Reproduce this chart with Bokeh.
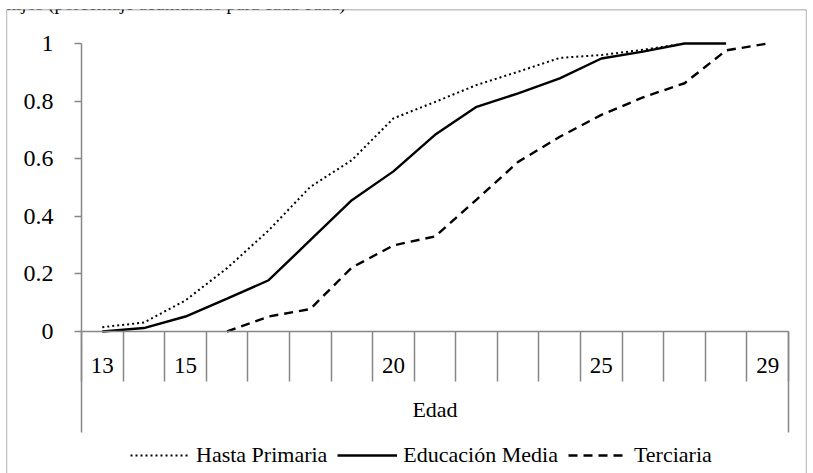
import numpy as np
from bokeh.plotting import figure
from bokeh.models import (Range1d, LinearAxis, FixedTicker, Legend, LegendItem, Label)
from bokeh.embed import file_html
from bokeh.resources import INLINE

nan = np.nan

# ---------------- data ----------------
ages = list(range(13, 30))
shown_age_labels = {13: "13", 15: "15", 20: "20", 25: "25", 29: "29"}

primaria = [0.015, 0.031, 0.108, 0.220, 0.351, 0.502, 0.595, 0.740, 0.797,
            0.856, 0.902, 0.950, 0.960, 0.978, 1.000, nan, nan]
media = [0.000, 0.012, 0.052, 0.114, 0.178, 0.317, 0.456, 0.556, 0.683,
         0.780, 0.827, 0.879, 0.948, 0.972, 1.000, 1.000, nan]
terciaria = [nan, nan, nan, 0.000, 0.052, 0.078, 0.222, 0.299, 0.330,
             0.458, 0.589, 0.676, 0.752, 0.813, 0.862, 0.976, 1.000]

series_names = ["Hasta Primaria", "Educación Media", "Terciaria"]
y_ticks = [0, 0.2, 0.4, 0.6, 0.8, 1.0]
y_tick_labels = ["0", "0.2", "0.4", "0.6", "0.8", "1"]
x_axis_title = "Edad"
title_text = "hijos (porcentaje acumulado para cada edad)"

# ---------------- layout (pixels) ----------------
W, H = 813, 473
FONT = "Liberation Serif"
GRAY = "#878787"
box_l, box_t, box_r = 6, 9, 806          # outer chart box (the frame)
plot_l, plot_r = 81, 788                 # plot area
plot_top, plot_zero = 43, 331            # y=1 and y=0
cat_lines_bottom = 432                   # bottom of category box lines

x_lo = ages[0] - 0.5
x_hi = ages[-1] + 0.5
ux = (plot_r - plot_l) / (x_hi - x_lo)
uy = (plot_zero - plot_top) / 1.0
x_start = x_lo - (plot_l - box_l) / ux
x_end = x_hi + (box_r - plot_r) / ux
y_end = 1.0 + (plot_top - box_t) / uy
y_start = -(H - plot_zero) / uy
axis_ext = -(cat_lines_bottom - plot_zero) / uy

p = figure(width=W, height=H, x_range=Range1d(x_start, x_end),
           y_range=Range1d(y_start, y_end),
           output_backend="svg", toolbar_location=None,
           x_axis_type=None, y_axis_type=None,
           min_border_left=box_l, min_border_right=W - box_r,
           min_border_top=box_t, min_border_bottom=0)
p.outline_line_color = None
p.background_fill_color = "white"
p.border_fill_color = "white"


def edge_axis(loc, where, dim_bounds):
    ax = LinearAxis(fixed_location=loc, bounds=dim_bounds,
                    ticker=FixedTicker(ticks=[], minor_ticks=[]))
    ax.axis_line_color = GRAY
    ax.axis_line_width = 1.3
    ax.major_tick_out = 0
    ax.major_tick_in = 0
    ax.major_label_text_font_size = "0px"
    p.add_layout(ax, where)
    return ax


# outer chart box: left, right and top edges
edge_axis(x_start, "left", (y_start, y_end))
edge_axis(x_end, "right", (y_start, y_end))
edge_axis(y_end, "above", (x_start, x_end))

# y axis (at the left edge of the plot area)
yaxis = LinearAxis(fixed_location=x_lo,
                   ticker=FixedTicker(ticks=y_ticks, minor_ticks=[]),
                   bounds=(axis_ext, 1.0))
yaxis.major_label_overrides = {t: s for t, s in zip(y_ticks, y_tick_labels)}
yaxis.axis_line_color = GRAY
yaxis.axis_line_width = 1.5
yaxis.major_tick_line_color = GRAY
yaxis.major_tick_line_width = 1.5
yaxis.major_tick_out = 7
yaxis.major_tick_in = 0
yaxis.minor_tick_line_color = None
yaxis.major_label_text_font = FONT
yaxis.major_label_text_font_size = "24px"
yaxis.major_label_text_color = "black"
yaxis.major_label_standoff = 21
p.add_layout(yaxis, "left")

# right closing line of the category box
raxis = LinearAxis(fixed_location=x_hi,
                   ticker=FixedTicker(ticks=[], minor_ticks=[]),
                   bounds=(axis_ext, 0.0))
raxis.axis_line_color = GRAY
raxis.axis_line_width = 1.5
raxis.major_tick_out = 0
raxis.major_tick_in = 0
raxis.major_label_text_font_size = "0px"
p.add_layout(raxis, "right")

# x (category) axis at y = 0
boundaries = [a - 0.5 for a in ages] + [ages[-1] + 0.5]
xaxis = LinearAxis(fixed_location=0, bounds=(x_lo, x_hi),
                   ticker=FixedTicker(ticks=ages, minor_ticks=boundaries))
xaxis.major_label_overrides = {a: shown_age_labels.get(a, "") for a in ages}
xaxis.axis_line_color = GRAY
xaxis.axis_line_width = 1.5
xaxis.major_tick_out = 0
xaxis.major_tick_in = 0
xaxis.major_tick_line_color = None
xaxis.minor_tick_out = 50
xaxis.minor_tick_in = 0
xaxis.minor_tick_line_color = GRAY
xaxis.minor_tick_line_width = 1.5
xaxis.major_label_text_font = FONT
xaxis.major_label_text_font_size = "23px"
xaxis.major_label_text_color = "black"
xaxis.major_label_standoff = -24
xaxis.axis_label = x_axis_title
xaxis.axis_label_text_font = FONT
xaxis.axis_label_text_font_size = "22px"
xaxis.axis_label_text_font_style = "normal"
xaxis.axis_label_text_color = "black"
xaxis.axis_label_standoff = 21
p.add_layout(xaxis, "below")

# series
r1 = p.line(ages, primaria, line_color="black", line_width=2, line_dash="2 3")
r2 = p.line(ages, media, line_color="black", line_width=2.4)
r3 = p.line(ages, terciaria, line_color="black", line_width=2.4, line_dash="9 6")

legend = Legend(items=[LegendItem(label=series_names[0], renderers=[r1]),
                       LegendItem(label=series_names[1], renderers=[r2]),
                       LegendItem(label=series_names[2], renderers=[r3])],
                orientation="horizontal", location=(124, 5),
                glyph_width=60, glyph_height=20, label_standoff=6, spacing=10,
                padding=0, margin=0, border_line_color=None,
                background_fill_alpha=0,
                label_text_font=FONT, label_text_font_size="22px",
                label_text_color="black")
p.add_layout(legend)

# clipped text line above the chart
p.add_layout(Label(x=0, y=H - 3, x_units="screen", y_units="screen",
                   text=title_text, text_font=FONT, text_font_size="19px",
                   text_baseline="alphabetic", text_color="black"))

open("out.html", "w").write(file_html(p, INLINE))
